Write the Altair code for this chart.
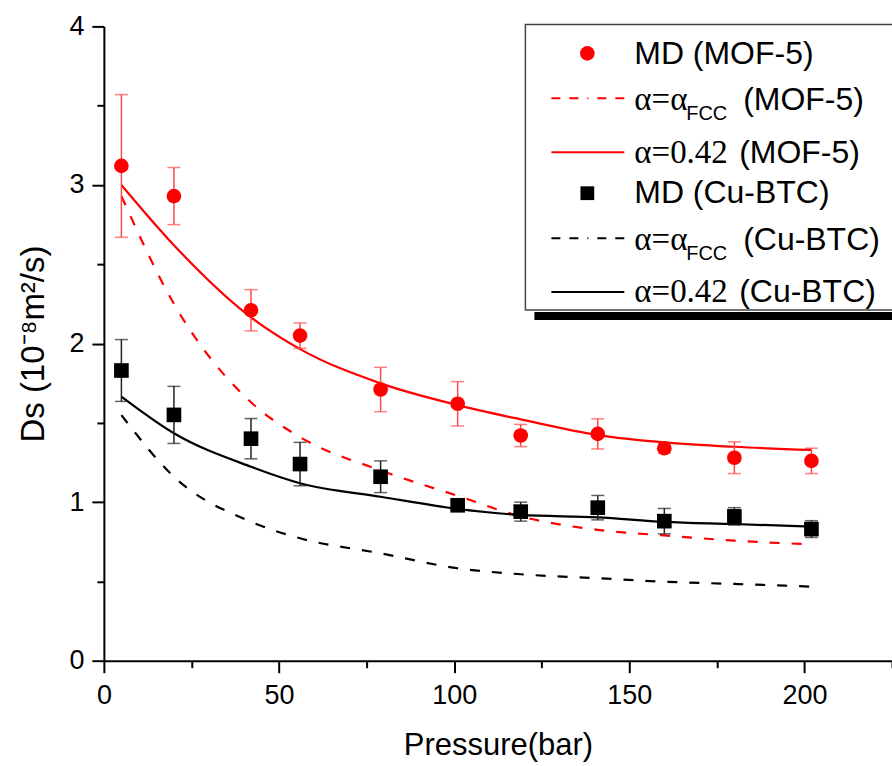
import altair as alt
import pandas as pd

# ---- data ----
pressure = [5, 20, 42, 56, 79, 101, 119, 141, 160, 180, 202]
mof5_md = [3.12, 2.93, 2.21, 2.05, 1.71, 1.62, 1.42, 1.43, 1.34, 1.28, 1.26]
mof5_err = [0.45, 0.18, 0.13, 0.08, 0.14, 0.14, 0.07, 0.095, 0.03, 0.10, 0.08]
cubtc_md = [1.83, 1.55, 1.40, 1.24, 1.16, 0.98, 0.94, 0.965, 0.88, 0.91, 0.83]
cubtc_err = [0.195, 0.18, 0.127, 0.137, 0.10, 0.03, 0.06, 0.077, 0.08, 0.055, 0.053]
mof5_fcc = [2.93, 2.25, 1.63, 1.41, 1.20, 1.04, 0.91, 0.825, 0.79, 0.757, 0.734]
mof5_042 = [3.00, 2.62, 2.165, 1.965, 1.749, 1.612, 1.522, 1.423, 1.377, 1.349, 1.329]
cubtc_fcc = [1.549, 1.16, 0.876, 0.772, 0.677, 0.583, 0.545, 0.52, 0.498, 0.484, 0.467]
cubtc_042 = [1.665, 1.434, 1.223, 1.119, 1.034, 0.957, 0.919, 0.904, 0.876, 0.862, 0.845]

x_ticks = [0, 25, 50, 75, 100, 125, 150, 175, 200, 225]
y_ticks = [0, 0.5, 1, 1.5, 2, 2.5, 3, 3.5, 4]

df = pd.DataFrame({
    "p": pressure,
    "mof5_md": mof5_md, "mof5_lo": [m - e for m, e in zip(mof5_md, mof5_err)],
    "mof5_hi": [m + e for m, e in zip(mof5_md, mof5_err)],
    "cubtc_md": cubtc_md, "cubtc_lo": [m - e for m, e in zip(cubtc_md, cubtc_err)],
    "cubtc_hi": [m + e for m, e in zip(cubtc_md, cubtc_err)],
    "mof5_fcc": mof5_fcc, "mof5_042": mof5_042,
    "cubtc_fcc": cubtc_fcc, "cubtc_042": cubtc_042,
})

SANS = "Liberation Sans"
SERIF = "Liberation Serif"
RED = "#ff0000"
DASH = [10, 12]
YTITLE = "Ds (10⁻⁸m²/s)"
XTITLE = "Pressure(bar)"

xscale = alt.Scale(domain=[0, 225], nice=False, zero=False)
yscale = alt.Scale(domain=[0, 4], nice=False)

xaxis = alt.Axis(
    values=x_ticks, labelExpr="datum.value % 50 === 0 ? format(datum.value, 'd') : ''",
    tickSize={"condition": {"test": "datum.value % 50 === 0", "value": 12}, "value": 7},
    tickWidth=2, tickColor="black", domainWidth=2, domainColor="black",
    labelFont=SANS, labelFontSize=27, labelColor="black", labelPadding=10,
    labelOverlap=False, labelFlush=False, grid=False,
    title=XTITLE, titleFont=SANS, titleFontSize=31, titleFontWeight="normal",
    titleColor="black", titlePadding=22,
)
yaxis = alt.Axis(
    values=y_ticks, labelExpr="datum.value % 1 === 0 ? format(datum.value, 'd') : ''",
    tickSize={"condition": {"test": "datum.value % 1 === 0", "value": 12}, "value": 7},
    tickWidth=2, tickColor="black", domainWidth=2, domainColor="black",
    labelFont=SANS, labelFontSize=27, labelColor="black", labelPadding=8,
    labelOverlap=False, labelFlush=False, grid=False,
    title=YTITLE, titleFont=SANS, titleFontSize=33, titleFontWeight="normal",
    titleColor="black", titlePadding=18,
)

base = alt.Chart(df)
X = alt.X("p:Q", scale=xscale, axis=xaxis, title=XTITLE)


def yenc(field):
    return alt.Y(f"{field}:Q", scale=yscale, axis=yaxis, title=YTITLE)


layers = []
# model lines
layers.append(base.mark_line(color=RED, strokeWidth=2.2, strokeDash=DASH, interpolate="monotone").encode(
    x=X, y=yenc("mof5_fcc")))
layers.append(base.mark_line(color=RED, strokeWidth=2.2, interpolate="monotone").encode(
    x=X, y=yenc("mof5_042")))
layers.append(base.mark_line(color="black", strokeWidth=2.2, strokeDash=DASH, interpolate="monotone").encode(
    x=X, y=yenc("cubtc_fcc")))
layers.append(base.mark_line(color="black", strokeWidth=2.2, interpolate="monotone").encode(
    x=X, y=yenc("cubtc_042")))

# error bars
for key, col in [("mof5", "#ff4a4a"), ("cubtc", "#222222")]:
    layers.append(base.mark_rule(color=col, strokeWidth=1.5).encode(
        x=X, y=yenc(f"{key}_lo"), y2=alt.Y2(f"{key}_hi")))
    for end in ("lo", "hi"):
        layers.append(base.mark_tick(color=col, orient="horizontal", size=13, thickness=1.5).encode(
            x=X, y=yenc(f"{key}_{end}")))

# markers
layers.append(base.mark_point(shape="circle", filled=True, size=215, color=RED, opacity=1).encode(
    x=X, y=yenc("mof5_md")))
layers.append(base.mark_point(shape="square", filled=True, size=215, color="black", opacity=1).encode(
    x=X, y=yenc("cubtc_md")))

# ---- legend (drawn in pixel space of the plot area) ----
one = alt.Chart(pd.DataFrame({"k": [0]}))
leg = []
leg.append(one.mark_rect(color="black").encode(
    x=alt.value(431), x2=alt.value(800), y=alt.value(286), y2=alt.value(294)))
leg.append(one.mark_rect(fill="white", stroke="#444444", strokeWidth=1.5).encode(
    x=alt.value(422), x2=alt.value(800), y=alt.value(-2), y2=alt.value(284)))

SX, L1, L2, TX = 484, 448, 521, 531
rows = [27, 72, 126, 167, 212, 266]
bases = [38, 84, 137, 177, 224, 276]

leg.append(one.mark_point(shape="circle", filled=True, size=215, color=RED, opacity=1).encode(
    x=alt.value(SX), y=alt.value(rows[0])))
leg.append(one.mark_rule(color=RED, strokeWidth=2, strokeDash=[9, 9, 9, 9, 1, 9]).encode(
    x=alt.value(L1), x2=alt.value(L2), y=alt.value(rows[1])))
leg.append(one.mark_rule(color=RED, strokeWidth=2).encode(
    x=alt.value(L1), x2=alt.value(L2), y=alt.value(rows[2])))
leg.append(one.mark_point(shape="square", filled=True, size=190, color="black", opacity=1).encode(
    x=alt.value(SX), y=alt.value(rows[3])))
leg.append(one.mark_rule(color="black", strokeWidth=2, strokeDash=[9, 9, 9, 9, 1, 9]).encode(
    x=alt.value(L1), x2=alt.value(L2), y=alt.value(rows[4])))
leg.append(one.mark_rule(color="black", strokeWidth=2).encode(
    x=alt.value(L1), x2=alt.value(L2), y=alt.value(rows[5])))


def txt(s, x, y, font=SANS, size=32):
    return one.mark_text(align="left", baseline="alphabetic", font=font, fontSize=size,
                         color="black").encode(x=alt.value(x), y=alt.value(y), text=alt.value(s))


for i, mat in [(0, "MOF-5"), (3, "Cu-BTC")]:
    leg.append(txt(f"MD ({mat})", TX, bases[i]))
    leg.append(txt("α=α", TX, bases[i + 1], SERIF, 33))
    leg.append(txt("FCC", 583, bases[i + 1] + 10, SANS, 20))
    leg.append(txt(f"({mat})", 640, bases[i + 1]))
    leg.append(txt("α=0.42", TX, bases[i + 2], SERIF, 33))
    leg.append(txt(f"({mat})", 636, bases[i + 2]))

chart = alt.layer(*layers, *leg).properties(
    width=789, height=635,
    autosize=alt.AutoSizeParams(type="none"),
    padding={"left": 104, "top": 26, "right": 0, "bottom": 105},
    background="white",
).configure_view(stroke=None)

chart.save("out.html", embed_options={"renderer": "svg", "actions": False})
